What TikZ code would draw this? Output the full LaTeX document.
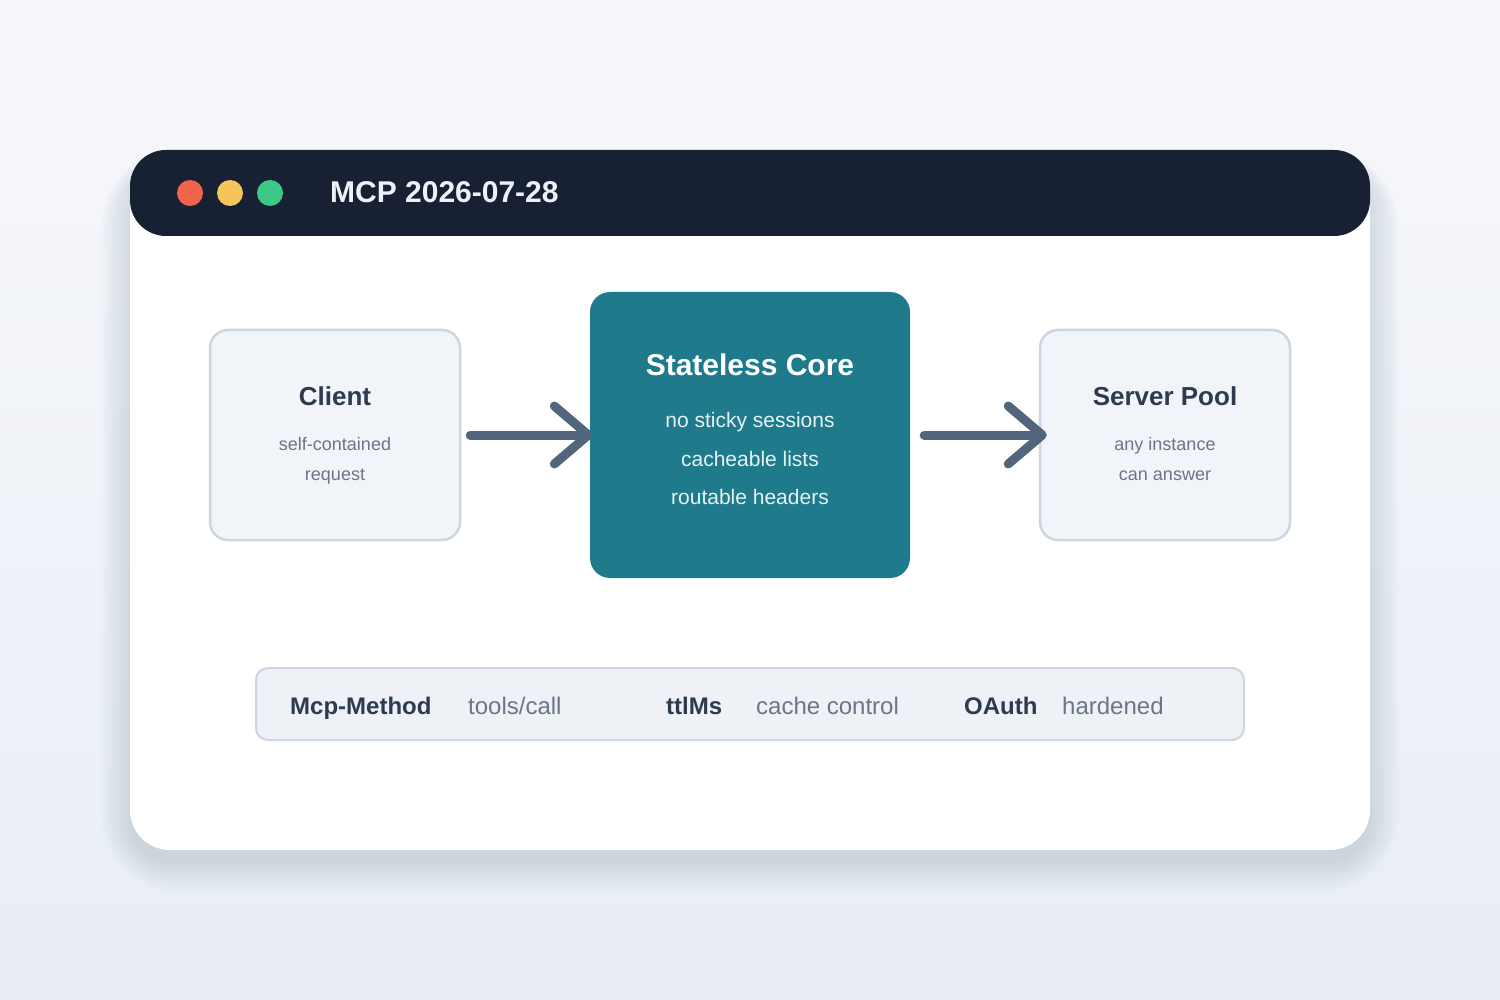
\documentclass[tikz,border=0pt]{standalone}
\usepackage{fontspec}
\setmainfont{Liberation Sans}
\usetikzlibrary{arrows.meta}
\definecolor{bgA}{HTML}{F7F8FB}
\definecolor{bgB}{HTML}{E8EDF5}
\definecolor{barbg}{HTML}{182034}
\definecolor{titletx}{HTML}{EEF2F8}
\definecolor{dotred}{HTML}{F0654A}
\definecolor{dotyel}{HTML}{F5C55A}
\definecolor{dotgrn}{HTML}{3CC887}
\definecolor{boxfill}{HTML}{F1F4F9}
\definecolor{boxline}{HTML}{CDD5E1}
\definecolor{headtx}{HTML}{2D3A4F}
\definecolor{subtx}{HTML}{6B7588}
\definecolor{corefill}{HTML}{1F7A8C}
\definecolor{coretx}{HTML}{E6F3F5}
\definecolor{arrowc}{HTML}{51667A}
\definecolor{stripfill}{HTML}{EEF2F7}
\definecolor{shadowc}{HTML}{8C9AAB}
\tikzset{
  sidebox/.style={draw=boxline, line width=2.5pt, fill=boxfill, rounded corners=18pt, minimum width=250pt, minimum height=210pt, inner sep=0pt},
  corebox/.style={fill=corefill, rounded corners=20pt, minimum width=320pt, minimum height=286pt, inner sep=0pt},
  head/.style={font=\bfseries\fontsize{26}{30}\selectfont, text=headtx, anchor=base, inner sep=0pt},
  sub/.style={font=\fontsize{18}{22}\selectfont, text=subtx, anchor=base, inner sep=0pt},
  corehead/.style={font=\bfseries\fontsize{30}{34}\selectfont, text=white, anchor=base, inner sep=0pt},
  coresub/.style={font=\fontsize{21}{24}\selectfont, text=coretx, anchor=base, inner sep=0pt},
  flow/.style={draw=arrowc, line width=9pt, line cap=round, -{Straight Barb[length=34pt, width=58pt, round]}},
  key/.style={font=\bfseries\fontsize{24}{28}\selectfont, text=headtx, anchor=base west, inner sep=0pt},
  val/.style={font=\fontsize{24}{28}\selectfont, text=subtx, anchor=base west, inner sep=0pt},
  dot/.style={circle, minimum size=26pt, inner sep=0pt},
}
\begin{document}
\begin{tikzpicture}[x=1pt, y=-1pt]
\useasboundingbox (0,0) rectangle (1500,1000);
% background
\shade[top color=bgA, bottom color=bgB] (0,0) rectangle (1500,1000);
% soft shadow
\foreach \i in {0,3,...,36} {
  \fill[shadowc, opacity=0.022, rounded corners=40pt+\i pt]
    (130-\i*0.8,168-\i*0.5) rectangle (1370+\i*0.8,862+\i*0.8);
}
% card
\node[fill=white, rounded corners=40pt, minimum width=1240pt, minimum height=700pt, inner sep=0pt] (card) at (750,500) {};
% title bar
\node[fill=barbg, rounded corners=36pt, minimum width=1240pt, minimum height=86pt, inner sep=0pt] (bar) at (750,193) {};
\node[dot, fill=dotred] (d1) at (190,193) {};
\node[dot, fill=dotyel] (d2) at (230,193) {};
\node[dot, fill=dotgrn] (d3) at (270,193) {};
\node[font=\bfseries\fontsize{30}{34}\selectfont, text=titletx, anchor=base west, inner sep=0pt] (title) at (330,203) {MCP 2026-07-28};
% boxes
\node[sidebox] (client) at (335,435) {};
\node[corebox] (core) at (750,435) {};
\node[sidebox] (server) at (1165,435) {};
% texts
\node[head] (clientT) at (335,406) {Client};
\node[sub] (clientS1) at (335,450) {self-contained};
\node[sub] (clientS2) at (335,480) {request};
\node[corehead] (coreT) at (750,375) {Stateless Core};
\node[coresub] (coreS1) at (750,428) {no sticky sessions};
\node[coresub] (coreS2) at (750,466) {cacheable lists};
\node[coresub] (coreS3) at (750,504) {routable headers};
\node[head] (serverT) at (1165,406) {Server Pool};
\node[sub] (serverS1) at (1165,450) {any instance};
\node[sub] (serverS2) at (1165,480) {can answer};
% arrows
\draw[flow] ([xshift=9pt]client.east) -- ([xshift=3pt]core.west);
\draw[flow] ([xshift=14pt]core.east) -- ([xshift=8pt]server.west);
% strip
\node[draw=boxline, line width=2pt, fill=stripfill, rounded corners=12pt, minimum width=988pt, minimum height=72pt, inner sep=0pt] (strip) at (750,704) {};
\node[key] (k1) at (290,714) {Mcp-Method};
\node[val] (v1) at (468,714) {tools/call};
\node[key] (k2) at (666,714) {ttlMs};
\node[val] (v2) at (756,714) {cache control};
\node[key] (k3) at (964,714) {OAuth};
\node[val] (v3) at (1062,714) {hardened};
\end{tikzpicture}
\end{document}
